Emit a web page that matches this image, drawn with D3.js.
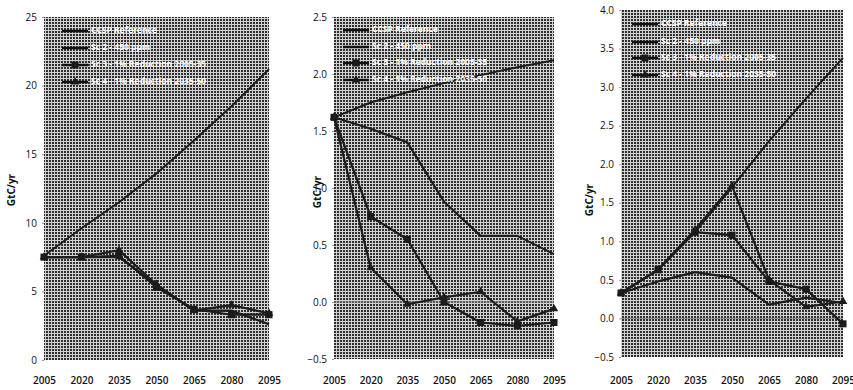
<!DOCTYPE html>
<html>
<head>
<meta charset="utf-8">
<script src="https://cdn.jsdelivr.net/npm/d3@7"></script>
<style>
  html, body { margin: 0; padding: 0; background: #fff; }
  svg { display: block; }
  .tick text { font-family: "Open Sans", sans-serif; }
</style>
</head>
<body>
<svg id="chart" width="853" height="390"></svg>
<script>
// Years shared by all three panels
const years = [2005, 2020, 2035, 2050, 2065, 2080, 2095];
const seriesNames = ["CCSP Reference", "Sc 2 - 450 ppm", "Sc 3 - 1% Reduction 2005-35", "Sc 4 - 1% Reduction 2035-50"];

// Panel 1 (GtC/yr)
const p1Ref = [7.6, 9.6, 11.5, 13.6, 16.0, 18.5, 21.2];
const p1Sc2 = [7.5, 7.5, 7.5, 5.5, 3.6, 3.6, 2.6];
const p1Sc3 = [7.5, 7.5, 7.6, 5.3, 3.7, 3.3, 3.3];
const p1Sc4 = [7.5, 7.5, 8.0, 5.5, 3.6, 4.0, 3.4];
const p1Ticks = [0, 5, 10, 15, 20, 25];

// Panel 2
const p2Ref = [1.62, 1.75, 1.84, 1.92, 1.99, 2.06, 2.12];
const p2Sc2 = [1.62, 1.52, 1.40, 0.88, 0.58, 0.58, 0.42];
const p2Sc3 = [1.62, 0.75, 0.55, 0.00, -0.18, -0.21, -0.18];
const p2Sc4 = [1.62, 0.30, -0.02, 0.04, 0.09, -0.17, -0.06];
const p2Ticks = [-0.5, 0.0, 0.5, 1.0, 1.5, 2.0, 2.5];

// Panel 3
const p3Ref = [0.33, 0.63, 1.12, 1.70, 2.30, 2.85, 3.38];
const p3Sc2 = [0.33, 0.48, 0.60, 0.53, 0.18, 0.27, 0.20];
const p3Sc3 = [0.33, 0.63, 1.12, 1.08, 0.48, 0.38, -0.07];
const p3Sc4 = [0.33, 0.63, 1.15, 1.72, 0.50, 0.15, 0.22];
const p3Ticks = [-0.5, 0.0, 0.5, 1.0, 1.5, 2.0, 2.5, 3.0, 3.5, 4.0];

const svg = d3.select("#chart");

// Halftone-like fill for the plot areas
const defs = svg.append("defs");
const pat = defs.append("pattern")
  .attr("id", "screen").attr("width", 3).attr("height", 3)
  .attr("patternUnits", "userSpaceOnUse");
pat.append("rect").attr("width", 3).attr("height", 3).attr("fill", "#2e2e2e");
pat.append("rect").attr("width", 3).attr("height", 1).attr("fill", "#d2d2d2");
pat.append("rect").attr("width", 1).attr("height", 3).attr("fill", "#d2d2d2");

const soft = defs.append("filter").attr("id", "soft");
soft.append("feGaussianBlur").attr("stdDeviation", 0.45);

const xLabelTop = 377;

const panels = [
  { x0: 44, x1: 269, y0: 17, y1: 360, dom: [0, 25], ticks: p1Ticks, fmt: d3.format("d"),
    data: [p1Ref, p1Sc2, p1Sc3, p1Sc4], titleX: 12, titleY: 190, legX: 62, legY: [31, 48, 65, 82], zero: false },
  { x0: 334, x1: 554, y0: 17, y1: 359, dom: [-0.5, 2.5], ticks: p2Ticks, fmt: d3.format(".1f"),
    data: [p2Ref, p2Sc2, p2Sc3, p2Sc4], titleX: 318, titleY: 192, legX: 343, legY: [30, 47, 63, 80], zero: true },
  { x0: 621, x1: 843, y0: 10, y1: 357, dom: [-0.5, 4.0], ticks: p3Ticks, fmt: d3.format(".1f"),
    data: [p3Ref, p3Sc2, p3Sc3, p3Sc4], titleX: 590, titleY: 200, legX: 632, legY: [24, 42, 58, 75], zero: true }
];

const markers = [null, null, "square", "triangle"];

function drawMarker(g, type, cx, cy) {
  if (type === "square") {
    g.append("rect").attr("x", cx - 3).attr("y", cy - 3).attr("width", 6).attr("height", 6)
      .attr("fill", "#1a1a1a").attr("stroke", "#1a1a1a");
  } else if (type === "triangle") {
    g.append("path").attr("d", d3.symbol(d3.symbolTriangle, 32)())
      .attr("transform", `translate(${cx},${cy})`).attr("fill", "#1a1a1a");
  }
}

panels.forEach(p => {
  const x = d3.scalePoint().domain(years).range([p.x0, p.x1]);
  const y = d3.scaleLinear().domain(p.dom).range([p.y1, p.y0]);
  const g = svg.append("g");

  g.append("rect").attr("x", p.x0).attr("y", p.y0)
    .attr("width", p.x1 - p.x0).attr("height", p.y1 - p.y0)
    .attr("fill", "url(#screen)");

  if (p.zero) {
    g.append("line").attr("x1", p.x0).attr("x2", p.x1)
      .attr("y1", y(0)).attr("y2", y(0))
      .attr("stroke", "#8c8c8c").attr("stroke-width", 1);
  }

  // Axes
  const yAxis = d3.axisLeft(y).tickValues(p.ticks).tickFormat(p.fmt).tickSize(2).tickPadding(5);
  const ya = g.append("g").attr("transform", `translate(${p.x0},0)`).call(yAxis);
  ya.select(".domain").remove();
  ya.selectAll("line").attr("stroke", "#999");
  ya.selectAll("text").attr("font-size", 10).attr("fill", "#111");

  const xAxis = d3.axisBottom(x).tickSize(0).tickPadding(0);
  const xa = g.append("g").attr("transform", `translate(0,${xLabelTop})`).call(xAxis);
  xa.select(".domain").remove();
  xa.selectAll("text").attr("font-size", 10).attr("font-weight", 600).attr("fill", "#111");

  g.append("text")
    .attr("transform", `translate(${p.titleX},${p.titleY}) rotate(-90)`)
    .attr("text-anchor", "middle").attr("dominant-baseline", "middle")
    .attr("font-family", "Open Sans, sans-serif").attr("font-weight", 700)
    .attr("font-size", 10).attr("fill", "#111").text("GtC/yr");

  // Series
  const line = d3.line().x((d, i) => x(years[i])).y(d => y(d));
  const sg = g.append("g").attr("filter", "url(#soft)");
  p.data.forEach((vals, k) => {
    sg.append("path").datum(vals).attr("d", line)
      .attr("fill", "none").attr("stroke", "#1c1c1c")
      .attr("stroke-width", k === 0 ? 2 : 2.2).attr("stroke-linejoin", "round");
    if (markers[k]) vals.forEach((v, i) => drawMarker(sg, markers[k], x(years[i]), y(v)));
  });

  // Legend
  const lg = g.append("g");
  seriesNames.forEach((name, k) => {
    const ly = p.legY[k];
    lg.append("line").attr("x1", p.legX).attr("x2", p.legX + 26)
      .attr("y1", ly).attr("y2", ly).attr("stroke", "#111").attr("stroke-width", 2.5);
    if (markers[k]) drawMarker(lg, markers[k], p.legX + 13, ly);
    lg.append("text").attr("x", p.legX + 29).attr("y", ly)
      .attr("dominant-baseline", "middle")
      .attr("font-family", "Open Sans, sans-serif").attr("font-size", 8.5)
      .attr("font-weight", 700)
      .attr("fill", "#ffffff").text(name);
  });
});
</script>
</body>
</html>
